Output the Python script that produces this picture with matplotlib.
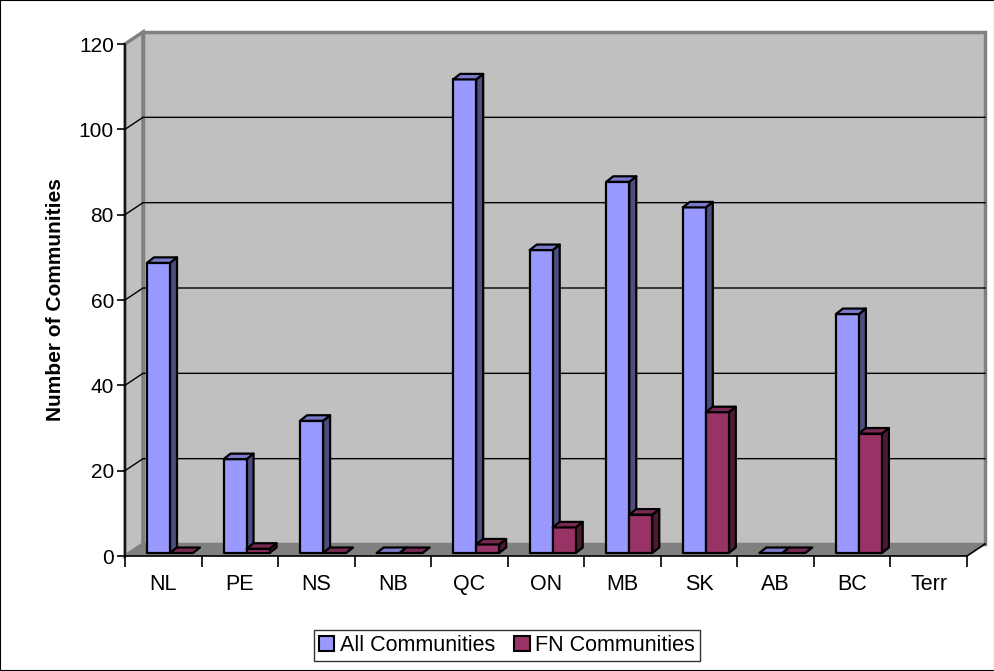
"""Excel-style 3D clustered bar chart: communities by province."""
import numpy as np
import matplotlib
matplotlib.use("Agg")
import matplotlib.pyplot as plt
from matplotlib.patches import Polygon, Rectangle, Patch

plt.rcParams.update({"font.family": ["Liberation Sans", "DejaVu Sans"]})

provinces = ["NL", "PE", "NS", "NB", "QC", "ON", "MB", "SK", "AB", "BC", "Terr"]
all_comm = [68, 22, 31, 0, 111, 71, 87, 81, 0, 56, np.nan]
fn_comm = [0, 1, 0, 0, 2, 6, 9, 33, 0, 28, np.nan]
series_names = ["All Communities", "FN Communities"]

C = dict(blue="#9999FF", blue_top="#7A7ACC", blue_side="#4D4D80",
         red="#993366", red_top="#7A2952", red_side="#4D1A33",
         wall="#C0C0C0", floor="#808080", edge="#808080")

W, H = 995, 671
fig = plt.figure(figsize=(W/100, H/100), dpi=100)
x0p, x1p, y0p, y1p = 125, 967, 556, 44
ax = fig.add_axes([x0p/W, (H-y0p)/H, (x1p-x0p)/W, (y0p-y1p)/H])
ax.set_xlim(-0.5, 10.5); ax.set_ylim(0, 120)
ax.patch.set_visible(False)
kx = (x1p-x0p)/11.0; ky = (y0p-y1p)/120.0
dxw, dyw = 18/kx, 12/ky          # wall depth
dxb, dyb = 7/kx, 5.5/ky          # bar depth
base = 3/ky                      # bars sit slightly behind the front edge
bw = 23/kx
xoff = [-0.5 + 22/kx, -0.5 + 45/kx]

# walls and floor
ax.add_patch(Polygon([(-0.5+dxw, dyw), (10.5+dxw, dyw), (10.5+dxw, 120+dyw), (-0.5+dxw, 120+dyw)],
                     fc=C["wall"], ec=C["edge"], lw=2.5, clip_on=False, zorder=0))
ax.add_patch(Polygon([(-0.5, 0), (-0.5+dxw, dyw), (-0.5+dxw, 120+dyw), (-0.5, 120)],
                     fc=C["wall"], ec=C["edge"], lw=2.5, clip_on=False, zorder=0.5))
ax.add_patch(Polygon([(-0.5, 0), (10.5, 0), (10.5+dxw, dyw), (-0.5+dxw, dyw)],
                     fc=C["floor"], ec="none", clip_on=False, zorder=1))
ax.plot([10.5, 10.5+dxw], [0, dyw], color="black", lw=1.2, clip_on=False, zorder=1.5)
for v in range(20, 101, 20):
    ax.plot([-0.5, -0.5+dxw, 10.5+dxw], [v, v+dyw, v+dyw], color="black", lw=1.0,
            clip_on=False, zorder=1.2)

# bars
cols = [(C["blue"], C["blue_top"], C["blue_side"]), (C["red"], C["red_top"], C["red_side"])]
for i in range(len(provinces)):
    for s, vals in enumerate([all_comm, fn_comm]):
        v = vals[i]
        if np.isnan(v):
            continue
        x0 = i + xoff[s]; b = base; t = base + v
        fc, tc, sc = cols[s]
        kw = dict(ec="black", lw=1.6, joinstyle="round", clip_on=False, zorder=3)
        if v > 0:
            ax.add_patch(Polygon([(x0+bw, b), (x0+bw+dxb, b+dyb), (x0+bw+dxb, t+dyb), (x0+bw, t)],
                                 fc=sc, **kw))
            ax.add_patch(Polygon([(x0, b), (x0+bw, b), (x0+bw, t), (x0, t)], fc=fc, **kw))
        ax.add_patch(Polygon([(x0, t), (x0+bw, t), (x0+bw+dxb, t+dyb), (x0+dxb, t+dyb)],
                             fc=tc, **kw))

# axes
for sp in ["top", "right"]:
    ax.spines[sp].set_visible(False)
for sp in ["left", "bottom"]:
    ax.spines[sp].set_color("black"); ax.spines[sp].set_linewidth(1.2); ax.spines[sp].set_zorder(4)
ax.set_yticks(range(0, 121, 20))
ax.tick_params(axis="y", length=6, width=1.2, labelsize=15, pad=2)
ax.set_xticks(np.arange(-0.5, 11, 1.0))
ax.set_xticklabels([])
ax.tick_params(axis="x", which="major", length=8, width=1.2)
ax.set_xticks(np.arange(11), minor=True)
ax.set_xticklabels(provinces, minor=True)
ax.tick_params(axis="x", which="minor", length=0, labelsize=15.5, pad=13)
ax.set_ylabel("Number of Communities", fontsize=15, fontweight="bold", labelpad=10)

handles = [Patch(fc=C["blue"], ec="black", lw=1.5), Patch(fc=C["red"], ec="black", lw=1.5)]
leg = fig.legend(handles, series_names, loc="center", bbox_to_anchor=(507/W, 1-645.5/H),
                 ncol=2, fontsize=15.5, frameon=True, fancybox=False, edgecolor="black",
                 handlelength=0.7, handleheight=0.7, handletextpad=0.25, columnspacing=0.9,
                 borderpad=0.25, borderaxespad=0)
leg.get_frame().set_linewidth(1.0)

fig.patches.append(Rectangle((0, 0), 1, 1, transform=fig.transFigure, fill=False,
                             ec="black", lw=1.5))
fig.savefig("out.png", dpi=100)
